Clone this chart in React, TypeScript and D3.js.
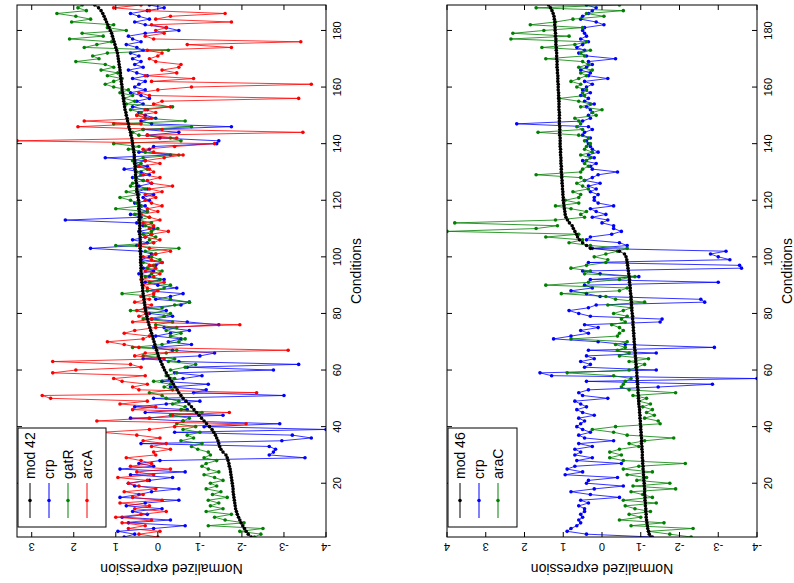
import React from 'react';
import * as d3 from 'd3';

const CONDITIONS = d3.range(1, 190);
const COND_TICKS = [20, 40, 60, 80, 100, 120, 140, 160, 180];
const VAL_TICKS_A = [3, 2, 1, 0, -1, -2, -3, -4];
const VAL_TICKS_B = [4, 3, 2, 1, 0, -1, -2, -3, -4];

const mod42 = [-2.22,-2.15,-2.10,-2.06,-2.02,-1.98,-1.95,-1.92,-1.89,-1.87,
-1.85,-1.84,-1.83,-1.82,-1.81,-1.80,-1.79,-1.79,-1.78,-1.77,
-1.76,-1.75,-1.74,-1.73,-1.72,-1.70,-1.69,-1.67,-1.65,-1.62,
-1.55,-1.50,-1.47,-1.45,-1.43,-1.40,-1.37,-1.33,-1.29,-1.23,
-1.16,-1.10,-1.04,-0.98,-0.92,-0.86,-0.80,-0.74,-0.67,-0.60,
-0.55,-0.50,-0.46,-0.41,-0.37,-0.33,-0.28,-0.24,-0.20,-0.16,
-0.13,-0.10,-0.07,-0.04,-0.01,0.01,0.03,0.05,0.07,0.09,
0.11,0.13,0.15,0.17,0.19,0.21,0.23,0.25,0.26,0.28,
0.29,0.30,0.31,0.32,0.33,0.34,0.35,0.36,0.36,0.37,
0.38,0.38,0.39,0.39,0.40,0.40,0.40,0.41,0.41,0.41,
0.41,0.42,0.42,0.42,0.42,0.42,0.42,0.43,0.43,0.43,
0.43,0.43,0.44,0.44,0.44,0.44,0.45,0.45,0.45,0.46,
0.47,0.48,0.49,0.50,0.50,0.51,0.52,0.52,0.53,0.53,
0.54,0.54,0.55,0.55,0.56,0.56,0.57,0.58,0.59,0.60,
0.61,0.62,0.64,0.65,0.67,0.69,0.70,0.72,0.73,0.75,
0.76,0.78,0.79,0.80,0.81,0.82,0.83,0.84,0.85,0.85,
0.86,0.87,0.88,0.89,0.89,0.90,0.91,0.92,0.93,0.94,
0.95,0.96,0.98,1.00,1.02,1.04,1.06,1.08,1.10,1.13,
1.16,1.19,1.22,1.25,1.28,1.31,1.35,1.41,1.50];

const crp42 = [0.80,0.55,0.95,0.10,-0.65,0.70,-0.30,0.85,0.25,0.60,
-0.10,0.75,0.30,-0.50,0.90,0.45,0.15,-0.50,0.55,0.70,
0.20,-0.35,0.65,-0.65,0.90,0.10,0.45,-0.05,-3.50,-2.65,
-2.75,-2.80,-2.65,0.40,-2.95,-3.65,-3.20,-0.40,-4.00,-1.10,
-2.90,-0.60,0.65,-1.55,0.30,-0.70,0.55,-0.20,-1.00,0.10,
-3.00,-0.85,-1.15,-0.30,-1.20,-0.10,-0.60,-1.05,-0.40,-2.75,
-0.70,-3.35,-0.50,0.35,-1.00,-1.35,-0.35,0.10,-0.80,-0.25,
-0.55,0.05,-0.30,-0.75,-0.15,-1.45,-0.70,0.15,-0.35,0.20,
-0.20,0.30,-0.55,-0.75,0.05,-0.30,-0.60,0.25,-0.45,0.00,
0.30,-0.15,0.20,0.45,0.10,0.35,0.05,-0.10,0.40,0.20,
0.15,0.40,1.60,0.50,0.25,0.60,0.30,0.15,0.45,0.10,
0.35,0.50,2.20,0.40,0.65,0.25,0.45,0.30,0.55,0.20,
0.35,0.10,0.50,0.25,0.45,0.15,0.35,0.60,0.20,0.40,
0.80,0.25,0.55,0.30,1.25,-0.30,0.45,0.20,0.10,-1.40,
-1.45,-0.05,0.25,-0.50,0.35,-1.75,0.15,0.40,0.05,0.30,
0.45,0.25,0.60,0.35,0.50,0.20,0.40,0.65,0.30,0.55,
0.45,0.30,0.60,0.25,0.50,0.70,0.35,0.55,0.40,0.60,
0.45,0.65,0.35,0.50,0.75,0.40,0.60,0.70,0.30,-0.50,
-0.20,0.30,0.55,0.20,0.45,0.65,0.25,-0.15,0.20];

const gatR = [-2.30,-2.45,-1.95,-2.50,-1.20,-2.05,-1.60,-1.35,-1.75,-1.15,
-1.55,-1.25,-1.45,-1.20,-1.65,-1.30,-1.50,-1.15,-1.40,-1.25,
-1.55,-1.35,-1.10,-1.45,-1.20,-1.05,-1.15,-1.40,-1.10,-1.25,
-1.20,-0.95,-0.80,-1.05,-0.55,-0.85,-0.70,-1.00,-0.60,-0.90,
-0.45,-0.60,-0.75,-0.30,-1.05,-0.55,-0.65,-0.35,-0.50,-0.20,
-0.10,0.20,-0.35,-0.15,-0.30,0.10,-0.40,-0.20,-0.45,-0.30,
-0.65,-0.90,-0.25,-0.40,0.35,-0.20,-0.45,0.60,-0.10,-0.50,
-0.65,-0.30,-0.55,-0.20,-0.45,0.05,-0.35,0.35,-0.15,-0.30,
0.65,-0.10,-0.40,-0.75,-0.30,0.10,0.85,0.25,-0.15,-0.30,
0.20,-0.05,0.30,0.15,-0.10,0.25,0.10,0.35,-0.05,0.15,
0.05,0.30,-0.50,1.00,0.10,0.20,0.05,0.35,0.15,0.00,
0.30,0.15,0.45,0.20,0.55,0.25,1.00,0.40,0.50,0.65,
0.90,0.45,0.75,0.30,0.65,0.60,0.35,0.55,0.40,0.50,
0.25,0.50,0.40,0.60,0.35,-0.50,0.30,0.70,0.45,1.05,
-0.55,-0.30,0.45,0.60,0.35,-0.80,1.05,-0.65,0.30,0.50,
0.40,0.65,-0.35,0.75,0.55,0.80,0.60,0.90,0.70,1.05,
1.25,1.05,0.85,1.20,0.95,1.35,1.05,1.25,1.95,1.40,
1.55,1.20,-0.25,1.75,1.45,1.10,2.10,1.30,1.80,0.75,
1.20,1.05,2.05,1.60,1.95,2.40,1.70,1.90,1.80];

const arcA = [0.00,0.45,-0.05,0.70,0.30,0.85,0.15,1.00,0.40,-0.20,
0.55,0.20,0.90,-0.10,0.60,0.35,0.80,0.05,0.45,0.70,
0.25,0.95,0.10,0.50,-0.30,0.65,0.15,0.40,0.75,0.05,
0.10,-0.30,0.15,-0.20,0.35,-0.05,0.50,1.35,0.20,-0.40,
-2.10,1.45,0.20,-0.35,-1.70,0.60,0.05,0.90,0.25,2.55,
2.75,-2.35,0.45,0.60,0.25,0.85,1.05,0.30,2.50,1.95,
0.40,0.65,2.50,-0.15,0.55,0.30,-3.10,0.45,0.80,1.20,
0.35,0.20,0.80,0.55,0.05,-1.95,0.60,0.15,0.45,0.25,
0.50,0.30,0.15,0.55,0.20,0.40,0.10,0.00,0.25,0.35,
-0.15,0.40,0.10,-0.05,0.30,0.05,0.20,-0.10,0.15,0.35,
0.05,-0.30,0.20,0.45,0.10,-0.05,0.30,0.15,-0.25,0.20,
0.10,0.35,-0.05,0.20,0.40,0.00,0.25,-0.10,0.15,0.30,
0.05,0.30,-0.10,0.20,-0.35,0.15,0.25,-0.05,0.35,0.10,
0.20,0.45,-0.05,0.30,-0.15,-0.60,0.10,0.35,-0.40,-1.35,
3.35,-0.45,0.25,-3.45,-0.10,1.90,0.40,1.75,0.15,0.50,
0.05,0.30,-0.30,0.10,-0.10,-3.35,0.20,0.45,0.00,-0.80,
-3.65,0.15,-0.85,0.30,-0.45,-0.10,-0.50,-0.55,0.05,0.20,
0.00,-0.10,0.25,-1.75,-0.70,-3.40,0.10,0.30,-0.15,0.05,
-0.20,0.15,-1.75,0.05,-0.30,-1.60,0.20,1.05,0.40];

const mod46 = [-1.26,-1.22,-1.20,-1.18,-1.17,-1.16,-1.15,-1.14,-1.14,-1.13,
-1.13,-1.12,-1.12,-1.11,-1.11,-1.10,-1.10,-1.10,-1.09,-1.09,
-1.08,-1.08,-1.07,-1.07,-1.06,-1.06,-1.05,-1.05,-1.04,-1.04,
-1.04,-1.03,-1.03,-1.02,-1.02,-1.02,-1.01,-1.01,-1.00,-1.00,
-0.99,-0.99,-0.98,-0.98,-0.97,-0.97,-0.96,-0.95,-0.95,-0.94,
-0.94,-0.93,-0.93,-0.92,-0.92,-0.91,-0.91,-0.90,-0.90,-0.89,
-0.88,-0.88,-0.87,-0.87,-0.86,-0.86,-0.85,-0.84,-0.84,-0.83,
-0.83,-0.82,-0.82,-0.81,-0.81,-0.80,-0.80,-0.79,-0.79,-0.78,
-0.77,-0.77,-0.76,-0.76,-0.75,-0.75,-0.74,-0.73,-0.73,-0.72,
-0.71,-0.71,-0.70,-0.69,-0.68,-0.67,-0.66,-0.65,-0.64,-0.62,
-0.58,-0.45,0.30,0.40,0.50,0.58,0.63,0.66,0.70,0.74,
0.77,0.84,0.89,0.93,0.95,0.96,0.97,0.98,0.99,1.00,
1.00,1.01,1.01,1.02,1.02,1.03,1.03,1.04,1.04,1.05,
1.05,1.05,1.06,1.06,1.06,1.07,1.07,1.07,1.08,1.08,
1.08,1.08,1.09,1.09,1.09,1.09,1.10,1.10,1.10,1.10,
1.10,1.11,1.11,1.11,1.11,1.12,1.12,1.12,1.13,1.13,
1.13,1.14,1.14,1.14,1.15,1.15,1.16,1.16,1.16,1.17,
1.17,1.17,1.18,1.18,1.19,1.19,1.19,1.20,1.20,1.21,
1.21,1.22,1.22,1.23,1.24,1.26,1.29,1.33,1.38];

const crp46 = [-1.30,0.40,0.90,0.80,0.65,0.55,0.60,0.50,0.55,0.45,
0.45,0.60,0.35,0.55,-0.45,0.30,0.80,0.20,-0.55,0.40,
0.35,-0.40,0.95,0.50,0.90,0.70,-0.50,0.65,0.25,0.70,
0.55,0.70,0.25,0.60,-0.30,0.45,0.60,0.30,0.50,0.65,
0.55,0.45,0.60,0.20,0.50,0.65,0.40,0.55,0.70,-0.15,
0.50,0.60,0.35,-1.45,-2.85,0.40,-4.00,1.30,1.60,-1.40,
0.45,0.30,0.55,0.20,0.40,-1.40,0.35,-2.90,-0.60,0.10,
1.25,0.80,0.35,0.55,0.10,0.45,-1.50,-1.55,0.30,0.60,
0.85,0.35,0.15,-2.65,-2.55,0.05,0.40,0.80,0.25,0.45,
-3.00,0.30,-0.95,0.05,0.50,-3.60,-3.55,0.35,-3.30,-3.00,
-2.80,-3.20,0.25,-0.65,-0.45,0.40,0.30,-0.25,-0.50,-0.30,
-0.30,0.00,-0.15,0.25,-0.10,0.15,0.30,-0.30,0.10,0.20,
0.20,0.10,0.30,0.15,0.35,0.05,0.45,0.25,0.10,-0.40,
0.25,0.30,0.15,0.50,0.20,0.35,0.10,0.25,0.30,0.35,
0.40,0.30,0.50,0.45,0.25,0.35,2.20,0.50,0.30,0.35,
0.25,0.30,0.40,0.20,0.45,0.35,0.55,0.30,0.50,0.40,
0.25,0.45,-0.15,0.35,0.30,0.55,0.40,0.25,0.35,-0.35,
0.40,0.60,0.45,0.65,0.50,0.35,0.55,0.40,0.45,0.50,
0.45,-0.05,0.15,0.55,0.50,0.35,0.25,0.15,0.40];

const araC = [-2.30,-1.75,-1.20,-2.35,-0.75,-1.60,-0.45,-1.00,-0.70,-1.25,
-0.85,-0.60,-1.40,-0.55,-1.30,-1.05,-0.75,-1.90,-0.80,-1.75,
-0.90,-1.15,-0.65,-1.30,-0.55,-0.95,-2.15,-0.55,-0.20,-0.50,
-0.20,-0.45,-0.95,-0.70,-1.10,-1.85,-0.65,-0.30,0.25,-0.35,
-1.50,-1.45,-1.10,-1.35,-1.15,-1.30,-1.05,-1.25,-0.95,-1.15,
-0.80,-1.90,-0.70,-0.50,-0.55,-0.60,-0.75,-0.30,0.90,-0.70,
-0.90,-1.10,-0.70,-1.20,-0.45,-0.70,-0.40,-0.60,-0.35,-0.65,
0.80,-0.40,-0.45,-0.55,-0.45,-0.25,-0.60,-0.50,-0.65,-0.30,
-0.55,-0.75,-0.15,-1.10,-0.35,-0.10,1.05,-0.45,-0.65,1.45,
0.35,-0.45,-0.85,0.45,0.30,0.80,0.40,-0.10,-0.15,0.20,
-0.10,-0.40,-0.65,0.30,0.85,0.50,1.45,0.60,4.00,1.70,
1.15,3.80,1.20,0.45,0.55,0.40,0.80,1.20,0.60,0.95,
0.60,0.55,0.75,0.35,0.50,0.65,0.45,0.55,1.70,0.55,
0.50,0.35,0.45,0.40,0.30,0.55,0.25,0.45,0.40,0.30,
0.45,0.35,0.60,1.65,0.50,0.65,0.55,0.60,0.70,0.15,
0.25,0.00,0.55,0.30,0.60,1.10,0.45,0.50,0.40,0.65,
0.55,0.80,0.60,0.40,0.55,0.25,0.60,0.35,0.50,1.45,
0.45,0.55,0.30,1.55,0.70,0.40,2.35,0.85,2.30,1.50,
0.50,1.85,1.20,0.75,-0.05,0.40,-0.55,1.70,-0.45];

type Series = { name: string; color: string; values: number[] };

const FONT = "'Liberation Sans', Arial, Helvetica, sans-serif";

const Y_TOP = 5;
const Y_BOT = 537;

function Panel(props: {
  id: string;
  x0: number;
  x1: number;
  vDomain: [number, number];
  valTicks: number[];
  series: Series[];
  legendX: number;
  legendY: number;
}) {
  const { id, x0, x1, vDomain, valTicks, series, legendX, legendY } = props;
  const xS = d3.scaleLinear().domain(vDomain).range([x1, x0]);
  const yS = d3.scaleLinear().domain([1, 189]).range([Y_BOT, Y_TOP]);
  const line = d3
    .line<number>()
    .x((d) => xS(d))
    .y((_, i) => yS(CONDITIONS[i]));
  const drawOrder = [...series.slice(1), series[0]];
  const tickLen = 5;
  const entryGap = 19;
  const legW = 12 + series.length * entryGap;
  const legH = 99;
  return (
    <g>
      <defs>
        <clipPath id={`clip-${id}`}>
          <rect x={x0} y={Y_TOP} width={x1 - x0} height={Y_BOT - Y_TOP} />
        </clipPath>
      </defs>
      <rect x={x0} y={Y_TOP} width={x1 - x0} height={Y_BOT - Y_TOP} fill="#fff" />
      <g clipPath={`url(#clip-${id})`}>
        {drawOrder.map((s) => (
          <g key={s.name}>
            <path d={line(s.values) || ''} fill="none" stroke={s.color} strokeWidth={0.8} />
            {s.values.map((v, i) => (
              <circle key={i} cx={xS(v)} cy={yS(CONDITIONS[i])} r={1.8} fill={s.color} />
            ))}
          </g>
        ))}
      </g>
      <rect x={x0} y={Y_TOP} width={x1 - x0} height={Y_BOT - Y_TOP} fill="none" stroke="#000" strokeWidth={1} />
      {valTicks.map((t) => (
        <g key={`v${t}`}>
          <line x1={xS(t)} x2={xS(t)} y1={Y_BOT} y2={Y_BOT - tickLen} stroke="#000" />
          <line x1={xS(t)} x2={xS(t)} y1={Y_TOP} y2={Y_TOP + tickLen} stroke="#000" />
          <text
            x={xS(t)}
            y={Y_BOT + 10}
            transform={`rotate(180, ${xS(t)}, ${Y_BOT + 10})`}
            textAnchor="middle"
            dominantBaseline="central"
            fontSize={11}
            fontFamily={FONT}
          >
            {String(t)}
          </text>
        </g>
      ))}
      {COND_TICKS.map((c) => (
        <g key={`c${c}`}>
          <line x1={x0} x2={x0 + tickLen} y1={yS(c)} y2={yS(c)} stroke="#000" />
          <line x1={x1} x2={x1 - tickLen} y1={yS(c)} y2={yS(c)} stroke="#000" />
          <text
            x={x1 + 11}
            y={yS(c)}
            transform={`rotate(-90, ${x1 + 11}, ${yS(c)})`}
            textAnchor="middle"
            dominantBaseline="central"
            fontSize={11}
            fontFamily={FONT}
          >
            {String(c)}
          </text>
        </g>
      ))}
      <text
        x={x1 + 30}
        y={(Y_TOP + Y_BOT) / 2}
        transform={`rotate(-90, ${x1 + 30}, ${(Y_TOP + Y_BOT) / 2})`}
        textAnchor="middle"
        dominantBaseline="central"
        fontSize={14}
        fontFamily={FONT}
      >
        Conditions
      </text>
      <text
        x={(x0 + x1) / 2}
        y={Y_BOT + 32}
        transform={`rotate(180, ${(x0 + x1) / 2}, ${Y_BOT + 32})`}
        textAnchor="middle"
        dominantBaseline="central"
        fontSize={14}
        fontFamily={FONT}
      >
        Normalized expression
      </text>
      <rect x={legendX} y={legendY} width={legW} height={legH} fill="#fff" stroke="#000" strokeWidth={1} />
      {series.map((s, k) => {
        const lx = legendX + 12 + k * entryGap;
        const ly1 = legendY + legH - 9;
        const ly0 = legendY + 55;
        const lm = (ly0 + ly1) / 2;
        return (
          <g key={`l${s.name}`}>
            <line x1={lx} x2={lx} y1={ly0} y2={ly1} stroke={s.color} strokeWidth={1} />
            <circle cx={lx} cy={lm} r={1.8} fill={s.color} />
            <text
              x={lx}
              y={ly0 - 4}
              transform={`rotate(-90, ${lx}, ${ly0 - 4})`}
              textAnchor="start"
              dominantBaseline="central"
              fontSize={14}
              fontFamily={FONT}
            >
              {s.name}
            </text>
          </g>
        );
      })}
    </g>
  );
}

export default function App() {
  const left: Series[] = [
    { name: 'mod 42', color: '#000000', values: mod42 },
    { name: 'crp', color: '#0000ff', values: crp42 },
    { name: 'gatR', color: '#008000', values: gatR },
    { name: 'arcA', color: '#ff0000', values: arcA },
  ];
  const right: Series[] = [
    { name: 'mod 46', color: '#000000', values: mod46 },
    { name: 'crp', color: '#0000ff', values: crp46 },
    { name: 'araC', color: '#008000', values: araC },
  ];
  return (
    <div style={{ position: 'absolute', left: 0, top: 0, width: 794, height: 583, background: '#fff' }}>
      <svg width={794} height={583} style={{ display: 'block' }}>
        <rect x={0} y={0} width={794} height={583} fill="#fff" />
        <Panel id="a" x0={17} x1={326} vDomain={[-4, 3.35]} valTicks={VAL_TICKS_A} series={left} legendX={18} legendY={428} />
        <Panel id="b" x0={447} x1={757} vDomain={[-4, 4]} valTicks={VAL_TICKS_B} series={right} legendX={448} legendY={428} />
      </svg>
    </div>
  );
}
